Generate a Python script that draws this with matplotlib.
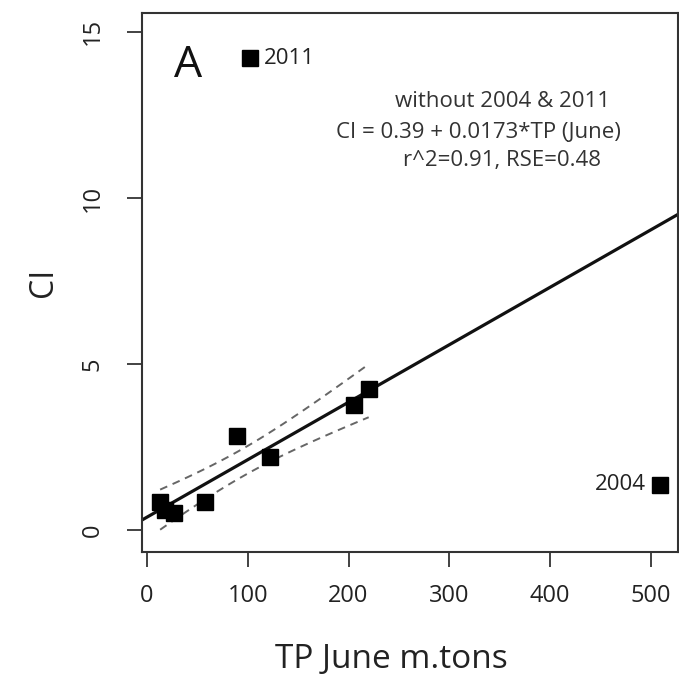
import numpy as np
import matplotlib
matplotlib.use("Agg")
import matplotlib.pyplot as plt

plt.rcParams['font.family'] = ['Open Sans', 'DejaVu Sans']

# data
tp_june = [13, 18, 27, 58, 89, 122, 205, 220]
ci_vals = [0.85, 0.60, 0.50, 0.84, 2.83, 2.20, 3.77, 4.25]
outlier_tp = [102, 509]
outlier_ci = [14.2, 1.36]
outlier_labels = ["2011", "2004"]

intercept = 0.39
slope = 0.0173
rse = 0.48
t_crit = 2.447  # t(0.975, df=6)

xticks = [0, 100, 200, 300, 400, 500]
yticks = [0, 5, 10, 15]

fig = plt.figure(figsize=(6.79, 6.76), dpi=100)
ax = fig.add_axes([142/679, 1-552/676, (678-142)/679, (552-13)/676])
ax.set_xlim(-5, 527)
ax.set_ylim(-0.66, 15.57)

x = np.array(tp_june, dtype=float)
y = np.array(ci_vals, dtype=float)

# regression line across whole plot (abline)
xl = np.array(ax.get_xlim())
ax.plot(xl, intercept + slope * xl, color='#111111', lw=2.3, zorder=2)

# confidence band over data range
xs = np.linspace(x.min(), x.max(), 100)
xbar = x.mean()
sxx = ((x - xbar) ** 2).sum()
half = t_crit * rse * np.sqrt(1/len(x) + (xs - xbar) ** 2 / sxx)
fit = intercept + slope * xs
ax.plot(xs, fit + half, color='#666666', lw=1.4, ls=(0, (4, 3)), zorder=2)
ax.plot(xs, fit - half, color='#666666', lw=1.4, ls=(0, (4, 3)), zorder=2)

ax.plot(x, y, 's', color='black', ms=12, zorder=3)
ax.plot(outlier_tp, outlier_ci, 's', color='black', ms=12, zorder=3, clip_on=False)

ax.annotate(outlier_labels[0], (outlier_tp[0], outlier_ci[0]), xytext=(10, 0),
            textcoords='offset points', fontsize=16, color='#222222',
            va='center', ha='left')
ax.annotate(outlier_labels[1], (outlier_tp[1], outlier_ci[1]), xytext=(-10, 0),
            textcoords='offset points', fontsize=16, color='#222222',
            va='center', ha='right')

ax.text(0.086, 0.903, "A", transform=ax.transAxes, fontsize=32, color='#111111',
        ha='center', va='center')

txt_col = '#333333'
ax.text(0.672, 0.835, "without 2004 & 2011", transform=ax.transAxes, fontsize=16,
        color=txt_col, ha='center', va='center')
ax.text(0.627, 0.779, "CI = 0.39 + 0.0173*TP (June)", transform=ax.transAxes, fontsize=16,
        color=txt_col, ha='center', va='center')
ax.text(0.672, 0.727, "r^2=0.91, RSE=0.48", transform=ax.transAxes, fontsize=16,
        color=txt_col, ha='center', va='center')

ax.set_xticks(xticks)
ax.set_yticks(yticks)
ax.set_xticklabels([str(v) for v in xticks])
ax.set_yticklabels([str(v) for v in yticks], rotation=90, va='center')
ax.tick_params(axis='both', direction='out', length=11, width=1.2, labelsize=17,
               colors='#222222')
ax.tick_params(axis='x', pad=12)
ax.tick_params(axis='y', pad=16)
for s in ax.spines.values():
    s.set_linewidth(1.5)
    s.set_color('#333333')

ax.set_xlabel("TP June m.tons", fontsize=24, color='#222222', labelpad=22)
ax.xaxis.set_label_coords(0.466, -0.169)
ax.set_ylabel("CI", fontsize=23, color='#222222', labelpad=15)

fig.savefig("out.png", dpi=100)
